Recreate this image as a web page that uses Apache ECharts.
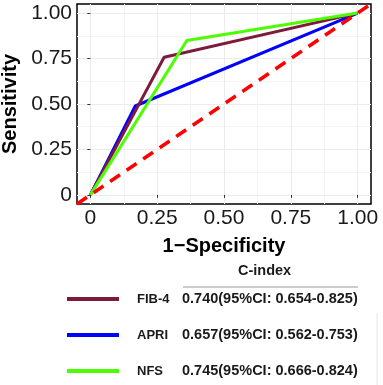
<!DOCTYPE html>
<html>
<head>
<meta charset="utf-8">
<script src="https://cdn.jsdelivr.net/npm/echarts@6/dist/echarts.min.js"></script>
<style>
  html, body { margin: 0; padding: 0; background: #fff; }
  #chart { width: 383px; height: 385px; }
</style>
</head>
<body>
<div id="chart"></div>
<script>
// ROC curves
const names = ['FIB-4', 'APRI', 'NFS']
const cIndex = ['0.740(95%CI: 0.654-0.825)', '0.657(95%CI: 0.562-0.753)', '0.745(95%CI: 0.666-0.824)']
const fibX = [0, 0.276, 1]
const fibY = [0, 0.757, 1]
const apriX = [0, 0.168, 1]
const apriY = [0, 0.489, 1]
const nfsX = [0, 0.361, 1]
const nfsY = [0, 0.849, 1]
const refX = [-0.05, 1.05]
const refY = [-0.05, 1.05]
const majorTicks = [0, 0.25, 0.5, 0.75, 1]
const minorTicks = [0.125, 0.375, 0.625, 0.875]

const pair = (xs, ys) => xs.map((x, i) => [x, ys[i]])
const fmt = (v) => v === 0 ? '0' : v.toFixed(2)

const font = 'Liberation Sans, Arial, sans-serif'

const mainAxis = (name, extra) => Object.assign({
  type: 'value',
  min: -0.05,
  max: 1.05,
  name: name,
  nameLocation: 'middle',
  nameTextStyle: { color: '#000', fontWeight: 'bold', fontSize: 20, fontFamily: font },
  axisLine: { show: false },
  axisTick: { show: true, length: 3, lineStyle: { color: '#333', width: 1 }, customValues: majorTicks },
  axisLabel: { color: '#1a1a1a', fontSize: 21, fontFamily: font, customValues: majorTicks, formatter: fmt },
  splitLine: { show: true, lineStyle: { color: '#ebebeb', width: 1 } },
}, extra)

const minorAxis = () => ({
  type: 'value',
  min: -0.05,
  max: 1.05,
  axisLine: { show: false },
  axisTick: { show: false, customValues: minorTicks },
  axisLabel: { show: false },
  splitLine: { show: true, lineStyle: { color: '#f4f4f4', width: 1 } },
})

const chart = echarts.init(document.getElementById('chart'))
chart.setOption({
  animation: false,
  grid: {
    left: 77, right: 12, top: 4, bottom: 181,
    outerBoundsMode: 'none',
    show: true, borderColor: '#000', borderWidth: 1.5, backgroundColor: 'transparent',
  },
  xAxis: [
    mainAxis('1\u2212Specificity', { nameGap: 32, axisLabel: { color: '#1a1a1a', fontSize: 21, fontFamily: font, customValues: majorTicks, formatter: fmt, margin: 4 } }),
    minorAxis(),
  ],
  yAxis: [
    mainAxis('Sensitivity', { nameGap: 49, axisLabel: { color: '#1a1a1a', fontSize: 21, fontFamily: font, customValues: majorTicks, formatter: fmt, margin: 5 } }),
    minorAxis(),
  ],
  title: {
    text: 'C-index',
    left: 238,
    top: 263,
    padding: 0,
    textStyle: { color: '#1a1a1a', fontWeight: 'bold', fontSize: 14.5, fontFamily: font },
  },
  legend: {
    data: names,
    orient: 'vertical',
    left: 67,
    top: 291,
    padding: 0,
    icon: 'rect',
    itemWidth: 52,
    itemHeight: 4,
    itemGap: 20,
    formatter: (name) => '{s|}{a|' + name + '}{b|' + cIndex[names.indexOf(name)] + '}',
    textStyle: {
      lineHeight: 16,
      rich: {
        s: { width: 13 },
        a: { width: 45, color: '#1a1a1a', fontWeight: 'bold', fontSize: 13, fontFamily: font },
        b: { color: '#1a1a1a', fontWeight: 'bold', fontSize: 14.5, fontFamily: font },
      },
    },
  },
  graphic: [
    { type: 'line', shape: { x1: 183, y1: 287, x2: 358, y2: 287 }, style: { stroke: '#999', lineWidth: 1 } },
    { type: 'line', shape: { x1: 377, y1: 313, x2: 377, y2: 385 }, style: { stroke: '#e6e6e6', lineWidth: 1 } },
  ],
  series: [
    {
      name: 'APRI', type: 'line', data: pair(apriX, apriY), symbol: 'none', z: 2,
      itemStyle: { color: '#0000ff' }, lineStyle: { color: '#0000ff', width: 3 },
    },
    {
      name: 'FIB-4', type: 'line', data: pair(fibX, fibY), symbol: 'none', z: 3,
      itemStyle: { color: '#7e1a3c' }, lineStyle: { color: '#7e1a3c', width: 3 },
    },
    {
      name: 'NFS', type: 'line', data: pair(nfsX, nfsY), symbol: 'none', z: 4,
      itemStyle: { color: '#4cff00' }, lineStyle: { color: '#4cff00', width: 3 },
    },
    {
      name: 'ref', type: 'line', data: pair(refX, refY), symbol: 'none', z: 5,
      lineStyle: { color: '#ff0000', width: 3.5, type: [12, 8] },
    },
  ],
})
</script>
</body>
</html>
